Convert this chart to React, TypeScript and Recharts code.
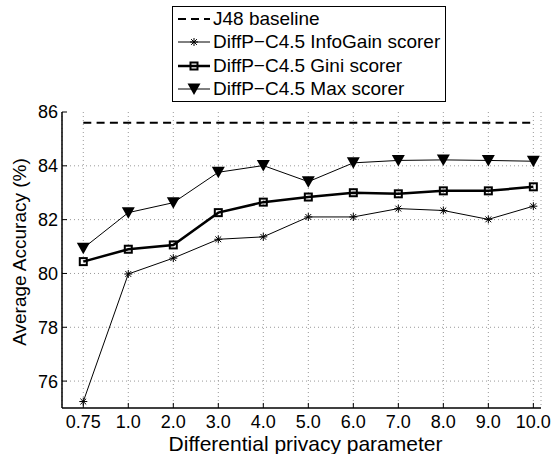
import { LineChart, Line, XAxis, YAxis, CartesianGrid, Legend } from 'recharts';

const categories = ['0.75', '1.0', '2.0', '3.0', '4.0', '5.0', '6.0', '7.0', '8.0', '9.0', '10.0'];
const baseline = [85.6, 85.6, 85.6, 85.6, 85.6, 85.6, 85.6, 85.6, 85.6, 85.6, 85.6];
const infoGain = [75.24, 79.98, 80.57, 81.27, 81.36, 82.1, 82.1, 82.41, 82.34, 82.01, 82.5];
const gini = [80.44, 80.9, 81.06, 82.26, 82.65, 82.84, 83.0, 82.96, 83.07, 83.07, 83.22];
const maxScorer = [80.94, 82.26, 82.63, 83.76, 84.01, 83.41, 84.11, 84.2, 84.22, 84.2, 84.17];
const yTicks = [76, 78, 80, 82, 84, 86];
const xTicks = categories.map((_, i) => i);

const data = categories.map((c, i) => ({
  idx: i,
  label: c,
  baseline: baseline[i],
  infoGain: infoGain[i],
  gini: gini[i],
  maxScorer: maxScorer[i],
}));

const FONT = '"Liberation Sans", Arial, Helvetica, sans-serif';
const TICK_LEN = 5;

// marker shapes, matlab-ish
function Star({ cx, cy }: { cx: number; cy: number }) {
  const r = 4;
  const d = 2.9;
  return (
    <g stroke="#000" strokeWidth={1}>
      <line x1={cx - r} y1={cy} x2={cx + r} y2={cy} />
      <line x1={cx} y1={cy - r} x2={cx} y2={cy + r} />
      <line x1={cx - d} y1={cy - d} x2={cx + d} y2={cy + d} />
      <line x1={cx - d} y1={cy + d} x2={cx + d} y2={cy - d} />
    </g>
  );
}

function Square({ cx, cy }: { cx: number; cy: number }) {
  return <rect x={cx - 3.5} y={cy - 3.5} width={7} height={7} fill="none" stroke="#000" strokeWidth={2} />;
}

function Tri({ cx, cy }: { cx: number; cy: number }) {
  return <path d={`M${cx - 6.5},${cy - 5.5} L${cx + 6.5},${cy - 5.5} L${cx},${cy + 6} Z`} fill="#000" />;
}

const dotOf = (Shape: typeof Star) => (props: any) => {
  if (props.cx == null || props.cy == null) return <g key={props.index} />;
  return <Shape key={props.index} cx={props.cx} cy={props.cy} />;
};

function BottomTick({ x, y, payload }: any) {
  return (
    <g>
      <line x1={x} y1={y} x2={x} y2={y - TICK_LEN} stroke="#000" />
      <text x={x} y={y + 20} textAnchor="middle" fontSize={18} fontFamily={FONT} fill="#000">
        {categories[payload.value]}
      </text>
    </g>
  );
}

function TopTick({ x, y }: any) {
  return <line x1={x} y1={y} x2={x} y2={y + TICK_LEN} stroke="#000" />;
}

function LeftTick({ x, y, payload }: any) {
  return (
    <g>
      <line x1={x} y1={y} x2={x + TICK_LEN} y2={y} stroke="#000" />
      <text x={x - 4} y={y} dy="0.36em" textAnchor="end" fontSize={18} fontFamily={FONT} fill="#000">
        {payload.value}
      </text>
    </g>
  );
}

function RightTick({ x, y }: any) {
  return <line x1={x} y1={y} x2={x - TICK_LEN} y2={y} stroke="#000" />;
}

const legendRows = [
  { name: 'J48 baseline', width: 2, dash: '8 5', Marker: null },
  { name: 'DiffP\u2212C4.5 InfoGain scorer', width: 1, dash: undefined, Marker: Star },
  { name: 'DiffP\u2212C4.5 Gini scorer', width: 2.5, dash: undefined, Marker: Square },
  { name: 'DiffP\u2212C4.5 Max scorer', width: 1, dash: undefined, Marker: Tri },
];

function LegendBox() {
  return (
    <div
      style={{
        boxSizing: 'border-box',
        width: 274,
        height: 96,
        border: '1px solid #000',
        background: '#fff',
        fontFamily: FONT,
        fontSize: 19,
        color: '#000',
      }}
    >
      {legendRows.map(r => (
        <div key={r.name} style={{ height: 23.5, display: 'flex', alignItems: 'center', whiteSpace: 'nowrap' }}>
          <svg width={40} height={20} style={{ flex: 'none' }}>
            <line x1={5} y1={10} x2={37} y2={10} stroke="#000" strokeWidth={r.width} strokeDasharray={r.dash} />
            {r.Marker && <r.Marker cx={21} cy={10} />}
          </svg>
          <span style={{ lineHeight: '20px' }}>{r.name}</span>
        </div>
      ))}
    </div>
  );
}

export default function App() {
  return (
    <div style={{ position: 'absolute', left: 0, top: 0, background: '#fff' }}>
      <LineChart width={555} height={454} data={data} margin={{ top: 112, right: 14, bottom: 16, left: 22 }}>
        <CartesianGrid stroke="#999" strokeDasharray="1 3" horizontalValues={[76, 78, 80, 82, 84]} />
        <XAxis
          dataKey="idx"
          type="number"
          domain={[-0.473, 10.17]}
          ticks={xTicks}
          allowDataOverflow
          height={30}
          tickSize={0}
          tickMargin={0}
          tick={<BottomTick />}
          axisLine={{ stroke: '#000', strokeWidth: 1.5 }}
          tickLine={false}
          label={{ value: 'Differential privacy parameter', position: 'insideBottom', offset: -13, dx: 4, fontSize: 21, fontFamily: FONT, fill: '#000' }}
        />
        <XAxis
          xAxisId="top"
          dataKey="idx"
          type="number"
          orientation="top"
          domain={[-0.473, 10.17]}
          ticks={xTicks}
          allowDataOverflow
          height={0}
          tickSize={0}
          tickMargin={0}
          tick={<TopTick />}
          axisLine={{ stroke: '#000', strokeWidth: 1.5 }}
          tickLine={false}
        />
        <YAxis
          type="number"
          domain={[75, 86]}
          ticks={yTicks}
          allowDataOverflow
          width={40}
          tickSize={0}
          tickMargin={0}
          tick={<LeftTick />}
          axisLine={{ stroke: '#000', strokeWidth: 1.5 }}
          tickLine={false}
          label={{ value: 'Average Accuracy (%)', angle: -90, position: 'center', dx: -23, dy: -8, fontSize: 19, fontFamily: FONT, fill: '#000' }}
        />
        <YAxis
          yAxisId="right"
          type="number"
          orientation="right"
          domain={[75, 86]}
          ticks={yTicks}
          allowDataOverflow
          width={0}
          tickSize={0}
          tickMargin={0}
          tick={<RightTick />}
          axisLine={{ stroke: '#000', strokeWidth: 1.5 }}
          tickLine={false}
        />
        <Legend
          layout="vertical"
          align="center"
          verticalAlign="middle"
          wrapperStyle={{ position: 'absolute', left: 172, top: 6, width: 274, height: 96 }}
          content={() => <LegendBox />}
        />
        <Line
          dataKey="baseline"
          name="J48 baseline"
          stroke="#000"
          strokeWidth={2}
          strokeDasharray="8 5.3"
          dot={false}
          activeDot={false}
          isAnimationActive={false}
        />
        <Line
          dataKey="infoGain"
          name="DiffP-C4.5 InfoGain scorer"
          stroke="#000"
          strokeWidth={1}
          dot={dotOf(Star)}
          activeDot={false}
          isAnimationActive={false}
        />
        <Line
          dataKey="gini"
          name="DiffP-C4.5 Gini scorer"
          stroke="#000"
          strokeWidth={2.5}
          dot={dotOf(Square)}
          activeDot={false}
          isAnimationActive={false}
        />
        <Line
          dataKey="maxScorer"
          name="DiffP-C4.5 Max scorer"
          stroke="#000"
          strokeWidth={1}
          dot={dotOf(Tri)}
          activeDot={false}
          isAnimationActive={false}
        />
      </LineChart>
    </div>
  );
}
